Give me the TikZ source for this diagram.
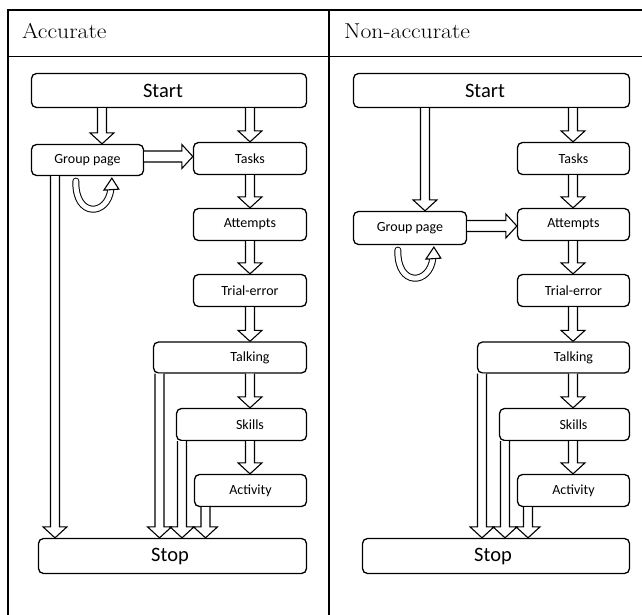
\documentclass[tikz,border=0pt]{standalone}
\usepackage{fontspec}
\newfontfamily\lblfont{Carlito}
\usetikzlibrary{calc}
\tikzset{
  box/.style={draw, line width=1.3pt, rounded corners=5pt, inner sep=0pt, align=center,
    font=\lblfont\fontsize{14}{16}\selectfont},
  bigbox/.style={box, font=\lblfont\fontsize{20.5}{24}\selectfont},
  lbl/.style={inner sep=0pt, font=\lblfont\fontsize{14}{16}\selectfont},
  barrow/.style={draw, line width=1.1pt, fill=white, line join=miter},
  loopline/.style={line width=1pt, double=white, double distance=5pt, line cap=round},
  tline/.style={line width=1.4pt},
  hdr/.style={anchor=base west, inner sep=0pt, font=\fontsize{21.5}{25}\selectfont},
}
% vertical block arrow: x, from node, to node
\newcommand\dnarrow[3]{%
  \draw[barrow] let \p1=(#1,0 |- #2.south), \p2=(#1,0 |- #3.north) in
    (\x1-4.5pt,\y1) -- (\x1-4.5pt,\y2+11pt) -- (\x1-12pt,\y2+11pt) -- (\x1,\y2)
    -- (\x1+12pt,\y2+11pt) -- (\x1+4.5pt,\y2+11pt) -- (\x1+4.5pt,\y1);}
% horizontal block arrow: y, from node, to node
\newcommand\rtarrow[3]{%
  \draw[barrow] let \p1=(#2.east |- 0,#1), \p2=(#3.west |- 0,#1) in
    (\x1,\y1+5.5pt) -- (\x2-11pt,\y1+5.5pt) -- (\x2-11pt,\y1+12pt) -- (\x2,\y1)
    -- (\x2-11pt,\y1-12pt) -- (\x2-11pt,\y1-5.5pt) -- (\x1,\y1-5.5pt);}
% curved self-loop arrow under a node
\newcommand\selfloop[1]{%
  \begin{scope}[shift={(#1.south west)}]
    \draw[loopline] (45,5) .. controls (44,42) and (77,40) .. (80,13);
    \draw[barrow] (73,14) -- (81,2) -- (88,13) -- cycle;
  \end{scope}}
\begin{document}
\begin{tikzpicture}[x=1pt, y=-1pt]
\useasboundingbox (0,0) rectangle (642,615);

% table
\draw[tline] (8,615) -- (8,10) -- (642,10);
\draw[tline] (8,56.5) -- (642,56.5);
\draw[tline] (329,10) -- (329,615);
\node[hdr] (hA) at (22,39) {\scalebox{1.1}[1]{Accurate}};
\node[hdr] (hN) at (344,39) {\scalebox{1.1}[1]{Non-accurate}};

% ---------- left panel ----------
\node[bigbox, minimum width=275pt, minimum height=34pt] (startL) at (169,90.5) {Start\hspace*{12pt}};
\node[box, minimum width=112pt, minimum height=31pt] (groupL) at (87.5,160) {Group page};
\node[box, minimum width=113pt, minimum height=32pt] (tasksL) at (250,158.5) {Tasks};
\node[box, minimum width=113pt, minimum height=32pt] (attL) at (250,224.5) {Attempts};
\node[box, minimum width=113pt, minimum height=32pt] (trialL) at (250,290.5) {Trial-error};
\node[box, minimum width=153pt, minimum height=31pt] (talkL) at (230,357.5) {};
\node[lbl] (talkLt) at (talkL.center -| tasksL.center) {Talking};
\node[box, minimum width=130pt, minimum height=32pt] (skillsL) at (241.5,424.5) {};
\node[lbl] (skillsLt) at (skillsL.center -| tasksL.center) {Skills};
\node[box, minimum width=112pt, minimum height=32pt] (actL) at (250.5,490.5) {Activity};
\node[bigbox, minimum width=268pt, minimum height=35pt] (stopL) at (172.5,556) {Stop\hspace*{5pt}};

\dnarrow{102}{startL}{groupL}
\dnarrow{250}{startL}{tasksL}
\rtarrow{156.5}{groupL}{tasksL}
\dnarrow{250}{tasksL}{attL}
\dnarrow{250}{attL}{trialL}
\dnarrow{250}{trialL}{talkL}
\dnarrow{250}{talkL}{skillsL}
\dnarrow{250}{skillsL}{actL}
\dnarrow{55}{groupL}{stopL}
\dnarrow{159.5}{talkL}{stopL}
\dnarrow{182}{skillsL}{stopL}
\dnarrow{205.5}{actL}{stopL}
\selfloop{groupL}

% ---------- right panel ----------
\node[bigbox, minimum width=276pt, minimum height=34pt] (startR) at (491.5,90.5) {Start\hspace*{13pt}};
\node[box, minimum width=112pt, minimum height=32pt] (tasksR) at (573.5,158.5) {Tasks};
\node[box, minimum width=113pt, minimum height=33pt] (groupR) at (410,228) {Group page};
\node[box, minimum width=112pt, minimum height=32pt] (attR) at (573.5,224.5) {Attempts};
\node[box, minimum width=112pt, minimum height=32pt] (trialR) at (573.5,290.5) {Trial-error};
\node[box, minimum width=152pt, minimum height=31pt] (talkR) at (553.5,357.5) {};
\node[lbl] (talkRt) at (talkR.center -| tasksR.center) {Talking};
\node[box, minimum width=130pt, minimum height=32pt] (skillsR) at (564.5,424.5) {};
\node[lbl] (skillsRt) at (skillsR.center -| tasksR.center) {Skills};
\node[box, minimum width=112pt, minimum height=32pt] (actR) at (573.5,490.5) {Activity};
\node[bigbox, minimum width=267pt, minimum height=35pt] (stopR) at (496,556) {Stop\hspace*{6pt}};

\dnarrow{425}{startR}{groupR}
\dnarrow{573}{startR}{tasksR}
\dnarrow{573}{tasksR}{attR}
\rtarrow{226}{groupR}{attR}
\dnarrow{573}{attR}{trialR}
\dnarrow{573}{trialR}{talkR}
\dnarrow{573}{talkR}{skillsR}
\dnarrow{573}{skillsR}{actR}
\dnarrow{482}{talkR}{stopR}
\dnarrow{505}{skillsR}{stopR}
\dnarrow{528}{actR}{stopR}
\selfloop{groupR}
\end{tikzpicture}
\end{document}
